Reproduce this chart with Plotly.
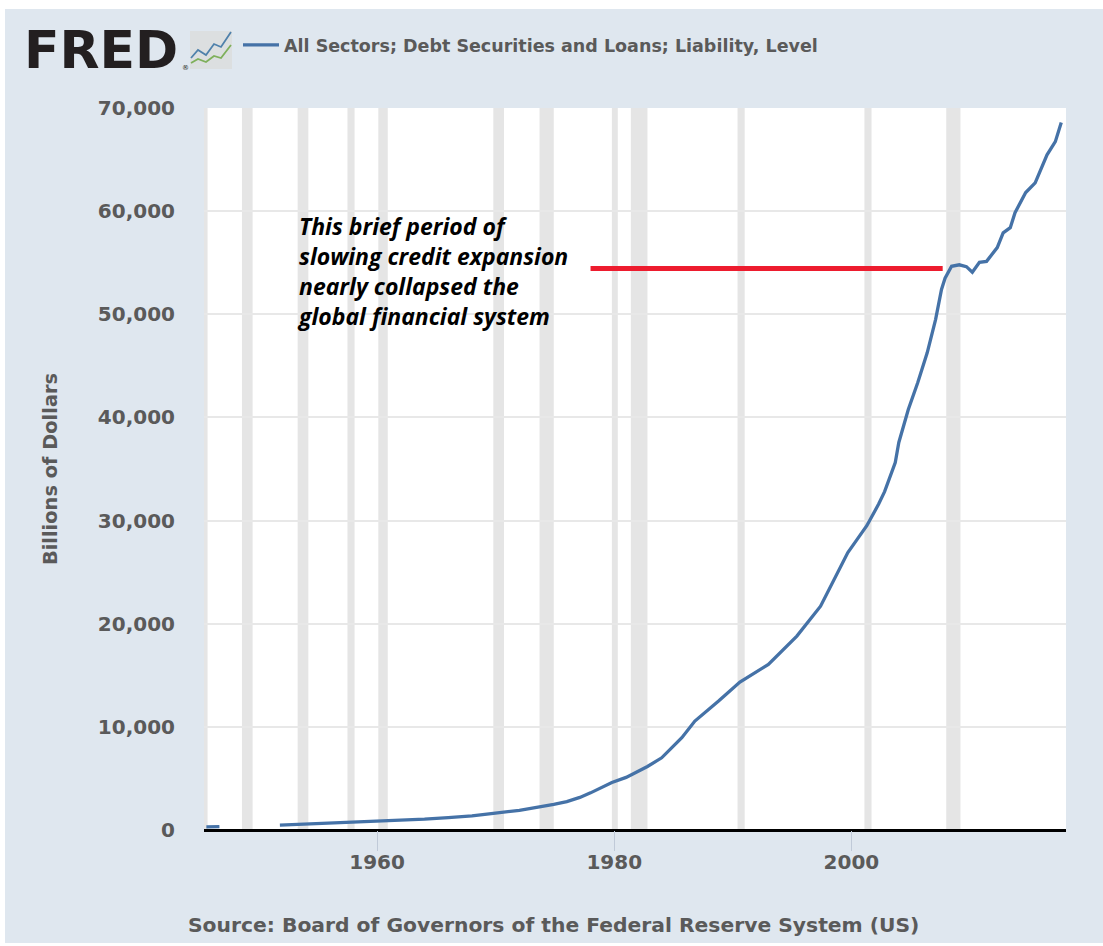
import plotly.graph_objects as go

W, H = 1103, 946
L, R, T, B = 204, 1066, 108, 830

series_name = "All Sectors; Debt Securities and Loans; Liability, Level"
early_years = [1945.6, 1946.7]
early_values = [300, 320]
years = [1951.8, 1954, 1956, 1958, 1960.5, 1962, 1964, 1966, 1968, 1969.8, 1972, 1974.9, 1976, 1977.1, 1978, 1979.8, 1981, 1982.8, 1984, 1985.7,
         1986.8, 1988.8, 1990.6, 1993.0, 1995.4, 1997.4, 1998.8, 1999.7, 2000.5, 2001.3, 2002.3, 2002.8, 2003.7, 2004.0, 2004.8, 2005.6, 2006.4,
         2007.1, 2007.6, 2007.9, 2008.45, 2009.1, 2009.7, 2010.2, 2010.8, 2011.4, 2012.3, 2012.8, 2013.4, 2013.8, 2014.7, 2015.5,
         2016.5, 2017.2, 2017.7]
values = [480, 570, 650, 730, 840, 920, 1050, 1200, 1370, 1615, 1900, 2480, 2750, 3160, 3600, 4600, 5100, 6160, 7000, 8950,
          10560, 12500, 14340, 16050, 18800, 21700, 24780, 26900, 28200, 29500, 31600, 32800, 35630, 37570, 40770, 43380, 46290,
          49490, 52400, 53500, 54650, 54800, 54620, 54070, 55040, 55130, 56470, 57900, 58400, 59850, 61800, 62750,
          65460, 66740, 68600]
recession_starts = [1945.2, 1948.6, 1953.3, 1957.5, 1960.1, 1969.8, 1973.7, 1979.8, 1981.4, 1990.4, 2001.1, 2008.0]
recession_ends = [1945.7, 1949.5, 1954.2, 1958.1, 1960.9, 1970.7, 1974.9, 1980.3, 1982.8, 1991.0, 2001.7, 2009.2]
callout_years = [1978, 2007.7]
callout_values = [54430, 54430]
callout_text = "This brief period of<br>slowing credit expansion<br>nearly collapsed the<br>global financial system"
x_ticks = [1960, 1980, 2000]
y_ticks = [0, 10000, 20000, 30000, 40000, 50000, 60000, 70000]
y_title = "Billions of Dollars"
source_text = "Source: Board of Governors of the Federal Reserve System (US)"

PANEL = "#dfe7ef"
GREY = "#5a5a5a"
BLUE = "#4572a7"
FONT = "DejaVu Sans"


def px(v):
    return (v - L) / (R - L)


def py(v):
    return (B - v) / (B - T)


def strip(x0, y0, x1, y1, fill):
    return dict(type="rect", xref="paper", yref="paper", x0=px(x0), x1=px(x1), y0=py(y0), y1=py(y1),
                fillcolor=fill, line_width=0, layer="below")


def zigzag(points, color):
    d = "M" + " L".join(f"{px(a):.5f},{py(b):.5f}" for a, b in points)
    return dict(type="path", xref="paper", yref="paper", path=d, line=dict(color=color, width=1.8), layer="above")


fig = go.Figure()
fig.add_trace(go.Scatter(x=early_years + [None] + years, y=early_values + [None] + values, mode="lines",
                         name=series_name, line=dict(color=BLUE, width=3.3), showlegend=True, hoverinfo="skip"))
fig.add_trace(go.Scatter(x=callout_years, y=callout_values, mode="lines", line=dict(color="#ed1c2e", width=5),
                         showlegend=False, hoverinfo="skip"))

shapes = [strip(0, 0, W, 9, "white"), strip(0, 0, 5, H, "white"), strip(0, 943, W, H, "white")]
for a, b in zip(recession_starts, recession_ends):
    shapes.append(dict(type="rect", xref="x", yref="paper", x0=a, x1=b, y0=0, y1=1,
                       fillcolor="#e5e5e5", line_width=0, layer="below"))
shapes.append(dict(type="rect", xref="paper", yref="paper", x0=px(190), x1=px(232), y0=py(69), y1=py(31),
                   fillcolor="#dcdfe0", line_width=0, layer="above"))
shapes.append(zigzag([(191, 58), (198, 50), (206, 55), (214, 44), (221, 47), (231, 32)], "#4f81ab"))
shapes.append(zigzag([(191, 63), (198, 59), (206, 62), (214, 56), (221, 58), (231, 45)], "#7fb05b"))

fig.update_layout(
    width=W, height=H, autosize=False,
    margin=dict(l=L, r=W - R, t=T, b=H - B, pad=0),
    paper_bgcolor=PANEL, plot_bgcolor="white",
    font=dict(family=FONT, color=GREY),
    shapes=shapes,
    showlegend=True,
    legend=dict(x=px(238), y=py(45), xanchor="left", yanchor="middle", bgcolor="rgba(0,0,0,0)",
                font=dict(size=17.5, color=GREY, family=FONT, weight="bold"), itemwidth=36),
    annotations=[
        dict(text="FRED", xref="paper", yref="paper", x=px(22), y=py(50), xanchor="left", yanchor="middle",
             showarrow=False, font=dict(size=52, color="#231f20", family=FONT, weight="bold")),
        dict(text="®", xref="paper", yref="paper", x=px(185), y=py(68), xanchor="center", yanchor="middle",
             showarrow=False, font=dict(size=7, color="#231f20", family=FONT)),
        dict(text=callout_text, xref="x", yref="y", x=1953.1, y=54200, xanchor="left", yanchor="middle", align="left",
             showarrow=False, font=dict(size=23, color="black", family="Open Sans", weight="bold", style="italic")),
        dict(text=source_text, xref="paper", yref="paper", x=px(186), y=py(925), xanchor="left", yanchor="middle",
             showarrow=False, font=dict(size=20.3, color=GREY, family=FONT, weight="bold")),
    ],
    xaxis=dict(range=[1945.4, 2018.1], tickvals=x_ticks, ticks="outside", ticklen=20, tickwidth=1, tickcolor="#c0cad8",
               showgrid=False, zeroline=False, showline=False, ticklabelstandoff=-6,
               tickfont=dict(size=20, color=GREY, family=FONT, weight="bold")),
    yaxis=dict(range=[0, 70000], tickvals=y_ticks, tickformat=",d", ticks="", showgrid=True, gridcolor="#e8e8e8", gridwidth=1.5,
               zeroline=True, zerolinecolor="black", zerolinewidth=3, showline=False, ticklabelstandoff=28,
               tickfont=dict(size=20, color=GREY, family=FONT, weight="bold"),
               title=dict(text=y_title, standoff=35, font=dict(size=19.4, color=GREY, family=FONT, weight="bold"))),
)

fig.write_html("out.html", config={"displayModeBar": False}, post_script="document.body.style.margin='0';")
